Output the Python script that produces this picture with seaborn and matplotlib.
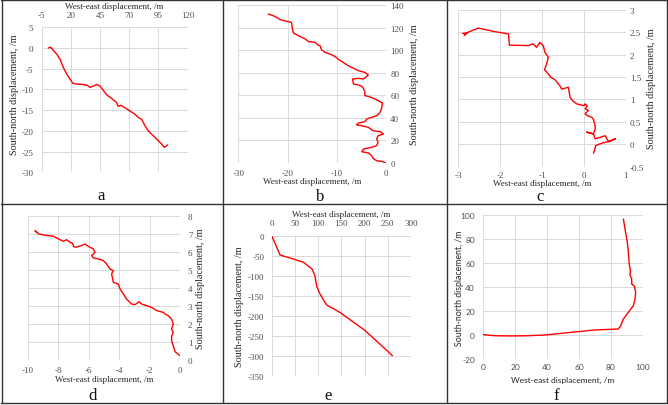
import numpy as np
import pandas as pd
import seaborn as sns
import matplotlib.pyplot as plt
from matplotlib.lines import Line2D

# ---- data ----
# a
a_x = [0.7, 2.7, 5, 8, 10.7, 13.6, 16.4, 19.3, 21.6, 25, 30.7, 34, 36.4, 39, 42, 45, 48,
       50.7, 55, 59, 60.7, 62.7, 66.4, 70.7, 75, 78, 80.7, 83.6, 86.4, 90.7, 95, 97.9,
       100, 102, 103]
a_y = [0, 0.2, -0.6, -1.5, -2.7, -4.7, -6.3, -7.5, -8.5, -8.7, -8.8, -9, -9.5, -9.2, -8.8,
       -9.2, -10.3, -11.3, -12.2, -13.1, -14.1, -13.8, -14.4, -15.2, -16, -16.8, -17.2,
       -18.8, -20, -21.2, -22.4, -23.2, -24, -23.6, -23.4]
# b
b_x = [0, -0.9, -1.9, -2.6, -2.9, -3.6, -4.9, -4.6, -2.9, -1.9, -1.6, -1.9, -1.6, -0.5,
       -1.2, -2.6, -3.6, -4.9, -6, -5.6, -4.3, -3.9, -2.9, -1.9, -1.2, -0.9, -0.7, -1.2,
       -2.2, -3.6, -4.3, -4.3, -4.6, -4.9, -5.6, -6.6, -6.8, -5.6, -4.6, -3.9, -3.6, -4.3,
       -5.6, -7, -7.7, -8.7, -9.3, -10.4, -11.4, -12.4, -13.1, -13.4, -13.8, -14.4, -15.7,
       -16.4, -17.5, -18.8, -19, -19.2, -19.8, -21.5, -22.2, -22.9, -23.9]
b_y = [0, 1.5, 2, 4.1, 6.5, 8.9, 10, 12.4, 13.9, 15.4, 18.3, 21.3, 24.2, 25.7, 27.8, 28.6,
       31.6, 33, 33.7, 35.4, 36.6, 39, 40.5, 41.9, 44.9, 48.4, 53.2, 54.3, 56.7, 59, 59.7,
       63.2, 66.2, 67.9, 69.1, 70, 74.4, 75, 74.4, 76.8, 78, 80.3, 81.8, 84.8, 86.2, 89.2,
       90.7, 94.5, 96.6, 98, 100.4, 104, 104.5, 106.9, 107.5, 109.9, 112.2, 115.2, 118.7,
       124.6, 125.2, 127, 129, 130.5, 132]
# c
c_x = [0.23, 0.26, 0.28, 0.45, 0.59, 0.75, 0.59, 0.51, 0.27, 0.23, 0.07, 0.23, 0.27, 0.27,
       0.23, 0.19, 0.08, 0.03, 0.11, 0.03, 0.08, 0.03, 0.0, -0.17, -0.27, -0.33, -0.37,
       -0.53, -0.57, -0.69, -0.79, -0.85, -0.94, -0.89, -0.85, -0.93, -0.97, -1.05, -1.13,
       -1.21, -1.33, -1.78, -1.8, -2.12, -2.52, -2.76, -2.86, -2.8, -2.9]
c_y = [-0.2, -0.12, -0.03, 0.03, 0.06, 0.12, 0.06, 0.19, 0.12, 0.23, 0.27, 0.23, 0.34, 0.41,
       0.55, 0.6, 0.64, 0.68, 0.75, 0.79, 0.85, 0.9, 0.86, 0.9, 0.97, 1.05, 1.27, 1.23, 1.3,
       1.44, 1.49, 1.57, 1.66, 1.79, 1.94, 2.05, 2.2, 2.27, 2.16, 2.24, 2.2, 2.21, 2.46,
       2.51, 2.59, 2.5, 2.43, 2.48, 2.47]
# d
d_x = [-0.02, -0.35, -0.46, -0.57, -0.57, -0.46, -0.57, -0.46, -0.57, -0.79, -1, -1.11,
       -1.55, -1.88, -2.2, -2.53, -2.69, -2.97, -3.19, -3.52, -3.73, -3.95, -4.06, -4.39,
       -4.5, -4.39, -4.61, -4.83, -5.04, -5.37, -5.7, -5.81, -5.59, -5.7, -6.03, -6.25,
       -6.46, -6.68, -6.83, -7, -7.05, -7.23, -7.45, -7.66, -7.88, -8.32, -8.97, -9.3,
       -9.52, -9.4]
d_y = [0.24, 0.46, 0.79, 1.07, 1.31, 1.53, 1.72, 2, 2.27, 2.46, 2.55, 2.64, 2.74, 2.92,
       3.01, 3.1, 3.23, 3.07, 3.1, 3.38, 3.66, 3.94, 4.21, 4.31, 4.77, 4.95, 5.05, 5.32,
       5.51, 5.6, 5.66, 5.79, 5.97, 6.16, 6.3, 6.43, 6.34, 6.3, 6.25, 6.29, 6.47, 6.52,
       6.67, 6.58, 6.67, 6.86, 6.93, 7, 7.17, 7.08]
# e
e_x = [0, 18, 46.7, 68, 87, 93, 97, 104, 118, 147, 201, 260]
e_y = [0, -48, -58, -66, -83, -99.5, -126, -145, -172, -191, -236, -298.5]
# f
f_x = [0, 7.3, 17.8, 28.2, 38.7, 49, 59.6, 70, 84.7, 86.2, 87.9, 91, 94.1, 95.2, 95.6,
       94.8, 93.1, 93.1, 92, 92.3, 91.6, 91, 90.6, 90, 88.9, 87.9]
f_y = [0.3, -0.6, -0.8, -0.6, 0, 1.4, 2.8, 4.2, 5, 7.8, 13.3, 18.9, 24.4, 30, 35.6, 40.6,
       42.5, 46.7, 50, 53.6, 59, 68.9, 74.4, 80, 88.3, 96.7]

xlab = 'West-east displacement, /m'
ylab = 'South-north displacement, /m'

W, H = 668, 406
sns.set_theme(style='whitegrid')
plt.rcParams['font.family'] = ['Liberation Serif', 'DejaVu Serif']
plt.rcParams['axes.unicode_minus'] = False

fig = plt.figure(figsize=(W / 100, H / 100), dpi=100)
fig.patch.set_facecolor('white')


def make_ax(l, r, t, b):
    return fig.add_axes([l / W, 1 - b / H, (r - l) / W, (b - t) / H])


def fmt(v):
    return '{:g}'.format(round(v, 6))


def panel(box, x, y, xlim, xticks, ylim, yticks, xtop, yright, xpad, ypad,
          xlabel_px, ylabel_px, font, fs=6.5, yfs=7.3):
    l, r, t, b = box
    ax = make_ax(l, r, t, b)
    sns.lineplot(x=x, y=y, sort=False, estimator=None, color='#ff0000', lw=1.0, ax=ax)
    ax.set_xlim(*xlim)
    ax.set_ylim(*ylim)
    ax.set_xticks(xticks)
    ax.set_yticks(yticks)
    ax.set_xticklabels([fmt(v) for v in xticks])
    ax.set_yticklabels([fmt(v) for v in yticks])
    ax.set_facecolor('white')
    for s in ax.spines.values():
        s.set_visible(False)
    ax.grid(True, color='#d9d9d9', lw=0.7)
    if xtop:
        ax.xaxis.tick_top()
    if yright:
        ax.yaxis.tick_right()
    ax.tick_params(axis='x', length=0, pad=xpad, labelsize=fs, labelcolor='#505050')
    ax.tick_params(axis='y', length=0, pad=ypad, labelsize=fs, labelcolor='#505050')
    for lab in ax.get_xticklabels() + ax.get_yticklabels():
        lab.set_family(font)
    ax.set_xlabel(xlab, fontsize=fs, color='#262626', family=font)
    ax.set_ylabel(ylab, fontsize=yfs, color='#262626', family=font)
    ax.xaxis.set_label_coords((xlabel_px[0] - l) / (r - l), (b - xlabel_px[1]) / (b - t))
    ax.yaxis.set_label_coords((ylabel_px[0] - l) / (r - l), (b - ylabel_px[1]) / (b - t))
    ax.xaxis.label.set_va('center')
    ax.yaxis.label.set_va('center')
    ax.yaxis.label.set_rotation_mode('anchor')
    ax.yaxis.label.set_ha('center')
    return ax


serif = ['Liberation Serif', 'DejaVu Serif']
sans = ['Lato', 'DejaVu Sans']

panel((41.7, 187.5, 28.3, 173.3), a_x, a_y, (-5, 120), np.arange(-5, 121, 25),
      (-30, 5), np.arange(-30, 6, 5), True, False, 6, 6, (114.6, 7), (15, 95), serif)
panel((238.3, 386, 6, 164), b_x, b_y, (-30, 0), np.arange(-30, 1, 10),
      (0, 140), np.arange(0, 141, 20), False, True, 4, 3, (312, 182), (414, 85), serif)
panel((458.3, 625.7, 10.7, 167.7), c_x, c_y, (-3, 1), np.arange(-3, 1.01, 1),
      (-0.5, 3), np.arange(-0.5, 3.01, 0.5), False, True, 3, 3, (542, 184), (651, 89), serif)
panel((27.7, 180.3, 216.7, 361), d_x, d_y, (-10, 0), np.arange(-10, 1, 2),
      (0, 8), np.arange(0, 9, 1), False, True, 4, 5.5, (104, 380), (200, 289), serif)
panel((271.7, 411, 236.7, 377.3), e_x, e_y, (0, 300), np.arange(0, 301, 50),
      (-350, 0), np.arange(-350, 1, 50), True, False, 6, 5.3, (341, 215), (240, 307), serif)
panel((483.3, 642.7, 216, 360), f_x, f_y, (0, 100), np.arange(0, 101, 20),
      (-20, 100), np.arange(-20, 101, 20), False, False, 3, 6, (563, 380), (460, 288), sans,
      fs=6, yfs=6.3)

# panel letters
for txt, x, y in [('a', 101, 196), ('b', 320, 197), ('c', 540, 197),
                  ('d', 93, 396), ('e', 328, 396), ('f', 556, 396)]:
    fig.text(x / W, 1 - y / H, txt, fontsize=12, ha='center', va='center', family=serif,
             color='#111111')


# table frame
def hline(y, x0=1, x1=667):
    fig.add_artist(Line2D([x0 / W, x1 / W], [1 - y / H, 1 - y / H], color='#333333', lw=1.0))


def vline(x, y0=1, y1=404):
    fig.add_artist(Line2D([x / W, x / W], [1 - y0 / H, 1 - y1 / H], color='#333333', lw=1.0))


hline(1)
hline(205)
hline(404)
vline(1.5)
vline(222.7)
vline(447.3)
vline(666.5)

fig.savefig('out.png', dpi=100, facecolor='white')
